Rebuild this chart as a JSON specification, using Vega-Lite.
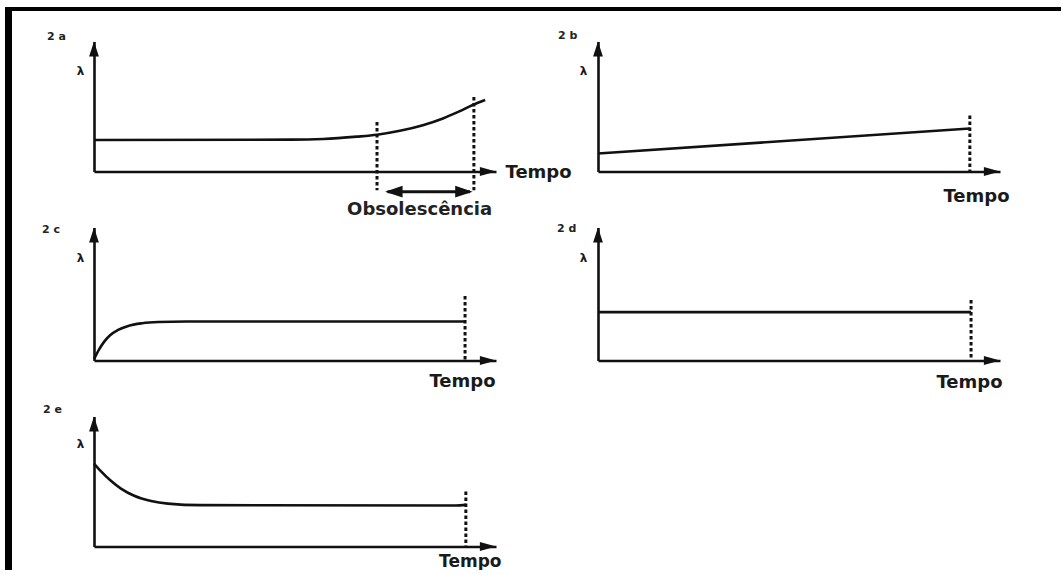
{
  "$schema": "https://vega.github.io/schema/vega-lite/v6.json",
  "background": "white",
  "padding": {"left": 2, "top": 2.5, "right": -4, "bottom": -9},
  "datasets": {
    "curves": [
      {"panel": "2a", "t": 0, "lam": 2.42}, {"panel": "2a", "t": 4.9, "lam": 2.45}, {"panel": "2a", "t": 5.7, "lam": 2.5},
      {"panel": "2a", "t": 6.54, "lam": 2.68}, {"panel": "2a", "t": 7.04, "lam": 2.83}, {"panel": "2a", "t": 7.61, "lam": 3.13},
      {"panel": "2a", "t": 8.18, "lam": 3.56}, {"panel": "2a", "t": 8.68, "lam": 4.08}, {"panel": "2a", "t": 9.1, "lam": 4.64},
      {"panel": "2a", "t": 9.42, "lam": 5.12}, {"panel": "2a", "t": 9.73, "lam": 5.5},
      {"panel": "2b", "t": 0, "lam": 1.38}, {"panel": "2b", "t": 9.25, "lam": 3.31},
      {"panel": "2c", "t": 0, "lam": 0.1}, {"panel": "2c", "t": 0.12, "lam": 0.8}, {"panel": "2c", "t": 0.25, "lam": 1.4},
      {"panel": "2c", "t": 0.4, "lam": 1.9}, {"panel": "2c", "t": 0.6, "lam": 2.3}, {"panel": "2c", "t": 0.85, "lam": 2.6},
      {"panel": "2c", "t": 1.2, "lam": 2.8}, {"panel": "2c", "t": 1.6, "lam": 2.89}, {"panel": "2c", "t": 2.3, "lam": 2.93},
      {"panel": "2c", "t": 9.23, "lam": 2.93},
      {"panel": "2d", "t": 0, "lam": 3.64}, {"panel": "2d", "t": 9.28, "lam": 3.64},
      {"panel": "2e", "t": 0, "lam": 6.38}, {"panel": "2e", "t": 0.17, "lam": 5.8}, {"panel": "2e", "t": 0.42, "lam": 5.05},
      {"panel": "2e", "t": 0.67, "lam": 4.45}, {"panel": "2e", "t": 1.0, "lam": 3.9}, {"panel": "2e", "t": 1.42, "lam": 3.5},
      {"panel": "2e", "t": 1.84, "lam": 3.3}, {"panel": "2e", "t": 2.66, "lam": 3.18}, {"panel": "2e", "t": 9.0, "lam": 3.15},
      {"panel": "2e", "t": 9.25, "lam": 3.2}
    ],
    "cutoffs": [
      {"panel": "2a", "t": 7.04, "top": 3.8, "bottom": -1.45},
      {"panel": "2a", "t": 9.45, "top": 5.73, "bottom": -1.45},
      {"panel": "2b", "t": 9.25, "top": 4.3, "bottom": 0},
      {"panel": "2c", "t": 9.23, "top": 4.85, "bottom": 0},
      {"panel": "2d", "t": 9.28, "top": 4.55, "bottom": 0},
      {"panel": "2e", "t": 9.25, "top": 4.23, "bottom": 0}
    ],
    "heads": [
      {"panel": "2a", "t": 10, "lam": 0, "dir": "right"}, {"panel": "2a", "t": 0, "lam": 10, "dir": "up"},
      {"panel": "2a", "t": 7.24, "lam": -1.55, "dir": "left2"}, {"panel": "2a", "t": 9.42, "lam": -1.55, "dir": "right2"},
      {"panel": "2b", "t": 10, "lam": 0, "dir": "right"}, {"panel": "2b", "t": 0, "lam": 10, "dir": "up"},
      {"panel": "2c", "t": 10, "lam": 0, "dir": "right"}, {"panel": "2c", "t": 0, "lam": 10, "dir": "up"},
      {"panel": "2d", "t": 10, "lam": 0, "dir": "right"}, {"panel": "2d", "t": 0, "lam": 10, "dir": "up"},
      {"panel": "2e", "t": 10, "lam": 0, "dir": "right"}, {"panel": "2e", "t": 0, "lam": 10, "dir": "up"}
    ],
    "spans": [
      {"panel": "2a", "from": 7.3, "to": 9.35, "lam": -1.55}
    ],
    "notes": [
      {"panel": "2a", "t": 8.1, "lam": -2.96, "label": "Obsolescência"}
    ]
  },
  "columns": 2,
  "spacing": {"row": 56, "column": 102},
  "bounds": "flush",
  "concat": [
    {
      "width": 402, "height": 130,
      "title": {"text": "2 a", "anchor": "start", "frame": "group", "dx": -47, "dy": 44.5, "offset": 0, "baseline": "middle"},
      "layer": [
        {
          "data": {"name": "curves"}, "transform": [{"filter": "datum.panel === '2a'"}],
          "mark": {"type": "line", "interpolate": "monotone", "strokeWidth": 2.6, "color": "#111"},
          "encoding": {
            "x": {"field": "t", "type": "quantitative", "scale": {"domain": [0, 10], "nice": false, "zero": false},
                  "axis": {"title": "Tempo", "titleX": 411, "titleY": 1, "titleAlign": "left", "titleBaseline": "middle", "titleAngle": 0, "titleFontSize": 18}},
            "y": {"field": "lam", "type": "quantitative", "scale": {"domain": [0, 10], "nice": false, "zero": false},
                  "axis": {"title": "λ", "titleX": -14, "titleY": 29, "titleAlign": "center", "titleBaseline": "middle", "titleAngle": 0, "titleFontSize": 12}}
          }
        },
        {
          "data": {"name": "cutoffs"}, "transform": [{"filter": "datum.panel === '2a'"}],
          "mark": {"type": "rule", "strokeWidth": 3, "strokeDash": [3.5, 2.5], "color": "#111"},
          "encoding": {"x": {"field": "t", "type": "quantitative"}, "y": {"field": "top", "type": "quantitative"}, "y2": {"field": "bottom"}}
        },
        {
          "data": {"name": "spans"}, "transform": [{"filter": "datum.panel === '2a'"}],
          "mark": {"type": "rule", "strokeWidth": 3, "color": "#111"},
          "encoding": {"x": {"field": "from", "type": "quantitative"}, "x2": {"field": "to"}, "y": {"field": "lam", "type": "quantitative"}}
        },
        {
          "data": {"name": "heads"}, "transform": [{"filter": "datum.panel === '2a'"}],
          "mark": {"type": "point", "filled": true, "opacity": 1, "size": 196, "color": "#111"},
          "encoding": {
            "x": {"field": "t", "type": "quantitative"},
            "y": {"field": "lam", "type": "quantitative"},
            "shape": {"field": "dir", "type": "nominal", "legend": null,
                      "scale": {"domain": ["up", "right", "left2", "right2"],
                                "range": ["M0,0L-0.7,2.15L0.7,2.15Z", "M0,0L-2.3,-0.65L-2.3,0.65Z", "M0,0L2.5,-0.85L2.5,0.85Z", "M0,0L-2.5,-0.85L-2.5,0.85Z"]}}
          }
        },
        {
          "data": {"name": "notes"}, "transform": [{"filter": "datum.panel === '2a'"}],
          "mark": {"type": "text", "font": "DejaVu Sans", "fontWeight": "bold", "fontSize": 18, "color": "#222", "align": "center", "baseline": "middle"},
          "encoding": {"x": {"field": "t", "type": "quantitative"}, "y": {"field": "lam", "type": "quantitative"}, "text": {"field": "label"}}
        },
        {
          "data": {"values": [{}]},
          "mark": {"type": "rule", "strokeWidth": 7, "color": "#000"},
          "encoding": {"x": {"datum": -2.127, "type": "quantitative"}, "y": {"datum": 12.654, "type": "quantitative"}, "y2": {"datum": -31.0}}
        },
        {
          "data": {"values": [{}]},
          "mark": {"type": "rule", "strokeWidth": 4, "color": "#000"},
          "encoding": {"x": {"datum": -2.214, "type": "quantitative"}, "x2": {"datum": 24.08}, "y": {"datum": 12.5, "type": "quantitative"}}
        }
      ]
    },
    {
      "width": 402, "height": 130,
      "title": {"text": "2 b", "anchor": "start", "frame": "group", "dx": -40, "dy": 5, "offset": 0, "baseline": "middle"},
      "layer": [
        {
          "data": {"name": "curves"}, "transform": [{"filter": "datum.panel === '2b'"}],
          "mark": {"type": "line", "strokeWidth": 2.6, "color": "#111"},
          "encoding": {
            "x": {"field": "t", "type": "quantitative", "scale": {"domain": [0, 10], "nice": false, "zero": false},
                  "axis": {"title": "Tempo", "titleX": 411, "titleY": 25, "titleAlign": "right", "titleBaseline": "middle", "titleAngle": 0, "titleFontSize": 18}},
            "y": {"field": "lam", "type": "quantitative", "scale": {"domain": [0, 10], "nice": false, "zero": false},
                  "axis": {"title": "λ", "titleX": -15, "titleY": 29, "titleAlign": "center", "titleBaseline": "middle", "titleAngle": 0, "titleFontSize": 12}}
          }
        },
        {
          "data": {"name": "cutoffs"}, "transform": [{"filter": "datum.panel === '2b'"}],
          "mark": {"type": "rule", "strokeWidth": 3, "strokeDash": [3.5, 2.5], "color": "#111"},
          "encoding": {"x": {"field": "t", "type": "quantitative"}, "y": {"field": "top", "type": "quantitative"}, "y2": {"field": "bottom"}}
        },
        {
          "data": {"name": "heads"}, "transform": [{"filter": "datum.panel === '2b'"}],
          "mark": {"type": "point", "filled": true, "opacity": 1, "size": 196, "color": "#111"},
          "encoding": {
            "x": {"field": "t", "type": "quantitative"},
            "y": {"field": "lam", "type": "quantitative"},
            "shape": {"field": "dir", "type": "nominal", "legend": null,
                      "scale": {"domain": ["up", "right", "left2", "right2"],
                                "range": ["M0,0L-0.7,2.15L0.7,2.15Z", "M0,0L-2.3,-0.65L-2.3,0.65Z", "M0,0L2.5,-0.85L2.5,0.85Z", "M0,0L-2.5,-0.85L-2.5,0.85Z"]}}
          }
        }
      ]
    },
    {
      "width": 402, "height": 133,
      "title": {"text": "2 c", "anchor": "start", "frame": "group", "dx": -52, "dy": 13, "offset": 0, "baseline": "middle"},
      "layer": [
        {
          "data": {"name": "curves"}, "transform": [{"filter": "datum.panel === '2c'"}],
          "mark": {"type": "line", "interpolate": "monotone", "strokeWidth": 2.6, "color": "#111"},
          "encoding": {
            "x": {"field": "t", "type": "quantitative", "scale": {"domain": [0, 10], "nice": false, "zero": false},
                  "axis": {"title": "Tempo", "titleX": 401, "titleY": 21, "titleAlign": "right", "titleBaseline": "middle", "titleAngle": 0, "titleFontSize": 18}},
            "y": {"field": "lam", "type": "quantitative", "scale": {"domain": [0, 10], "nice": false, "zero": false},
                  "axis": {"title": "λ", "titleX": -14, "titleY": 30, "titleAlign": "center", "titleBaseline": "middle", "titleAngle": 0, "titleFontSize": 12}}
          }
        },
        {
          "data": {"name": "cutoffs"}, "transform": [{"filter": "datum.panel === '2c'"}],
          "mark": {"type": "rule", "strokeWidth": 3, "strokeDash": [3.5, 2.5], "color": "#111"},
          "encoding": {"x": {"field": "t", "type": "quantitative"}, "y": {"field": "top", "type": "quantitative"}, "y2": {"field": "bottom"}}
        },
        {
          "data": {"name": "heads"}, "transform": [{"filter": "datum.panel === '2c'"}],
          "mark": {"type": "point", "filled": true, "opacity": 1, "size": 196, "color": "#111"},
          "encoding": {
            "x": {"field": "t", "type": "quantitative"},
            "y": {"field": "lam", "type": "quantitative"},
            "shape": {"field": "dir", "type": "nominal", "legend": null,
                      "scale": {"domain": ["up", "right", "left2", "right2"],
                                "range": ["M0,0L-0.7,2.15L0.7,2.15Z", "M0,0L-2.3,-0.65L-2.3,0.65Z", "M0,0L2.5,-0.85L2.5,0.85Z", "M0,0L-2.5,-0.85L-2.5,0.85Z"]}}
          }
        }
      ]
    },
    {
      "width": 402, "height": 133,
      "title": {"text": "2 d", "anchor": "start", "frame": "group", "dx": -41, "dy": 12, "offset": 0, "baseline": "middle"},
      "layer": [
        {
          "data": {"name": "curves"}, "transform": [{"filter": "datum.panel === '2d'"}],
          "mark": {"type": "line", "strokeWidth": 2.6, "color": "#111"},
          "encoding": {
            "x": {"field": "t", "type": "quantitative", "scale": {"domain": [0, 10], "nice": false, "zero": false},
                  "axis": {"title": "Tempo", "titleX": 404, "titleY": 22, "titleAlign": "right", "titleBaseline": "middle", "titleAngle": 0, "titleFontSize": 18}},
            "y": {"field": "lam", "type": "quantitative", "scale": {"domain": [0, 10], "nice": false, "zero": false},
                  "axis": {"title": "λ", "titleX": -15, "titleY": 30, "titleAlign": "center", "titleBaseline": "middle", "titleAngle": 0, "titleFontSize": 12}}
          }
        },
        {
          "data": {"name": "cutoffs"}, "transform": [{"filter": "datum.panel === '2d'"}],
          "mark": {"type": "rule", "strokeWidth": 3, "strokeDash": [3.5, 2.5], "color": "#111"},
          "encoding": {"x": {"field": "t", "type": "quantitative"}, "y": {"field": "top", "type": "quantitative"}, "y2": {"field": "bottom"}}
        },
        {
          "data": {"name": "heads"}, "transform": [{"filter": "datum.panel === '2d'"}],
          "mark": {"type": "point", "filled": true, "opacity": 1, "size": 196, "color": "#111"},
          "encoding": {
            "x": {"field": "t", "type": "quantitative"},
            "y": {"field": "lam", "type": "quantitative"},
            "shape": {"field": "dir", "type": "nominal", "legend": null,
                      "scale": {"domain": ["up", "right", "left2", "right2"],
                                "range": ["M0,0L-0.7,2.15L0.7,2.15Z", "M0,0L-2.3,-0.65L-2.3,0.65Z", "M0,0L2.5,-0.85L2.5,0.85Z", "M0,0L-2.5,-0.85L-2.5,0.85Z"]}}
          }
        }
      ]
    },
    {
      "width": 402, "height": 130,
      "title": {"text": "2 e", "anchor": "start", "frame": "group", "dx": -51, "dy": 4, "offset": 0, "baseline": "middle"},
      "layer": [
        {
          "data": {"name": "curves"}, "transform": [{"filter": "datum.panel === '2e'"}],
          "mark": {"type": "line", "interpolate": "monotone", "strokeWidth": 2.6, "color": "#111"},
          "encoding": {
            "x": {"field": "t", "type": "quantitative", "scale": {"domain": [0, 10], "nice": false, "zero": false},
                  "axis": {"title": "Tempo", "titleX": 407, "titleY": 15, "titleAlign": "right", "titleBaseline": "middle", "titleAngle": 0, "titleFontSize": 17}},
            "y": {"field": "lam", "type": "quantitative", "scale": {"domain": [0, 10], "nice": false, "zero": false},
                  "axis": {"title": "λ", "titleX": -14, "titleY": 27, "titleAlign": "center", "titleBaseline": "middle", "titleAngle": 0, "titleFontSize": 12}}
          }
        },
        {
          "data": {"name": "cutoffs"}, "transform": [{"filter": "datum.panel === '2e'"}],
          "mark": {"type": "rule", "strokeWidth": 3, "strokeDash": [3.5, 2.5], "color": "#111"},
          "encoding": {"x": {"field": "t", "type": "quantitative"}, "y": {"field": "top", "type": "quantitative"}, "y2": {"field": "bottom"}}
        },
        {
          "data": {"name": "heads"}, "transform": [{"filter": "datum.panel === '2e'"}],
          "mark": {"type": "point", "filled": true, "opacity": 1, "size": 196, "color": "#111"},
          "encoding": {
            "x": {"field": "t", "type": "quantitative"},
            "y": {"field": "lam", "type": "quantitative"},
            "shape": {"field": "dir", "type": "nominal", "legend": null,
                      "scale": {"domain": ["up", "right", "left2", "right2"],
                                "range": ["M0,0L-0.7,2.15L0.7,2.15Z", "M0,0L-2.3,-0.65L-2.3,0.65Z", "M0,0L2.5,-0.85L2.5,0.85Z", "M0,0L-2.5,-0.85L-2.5,0.85Z"]}}
          }
        }
      ]
    }
  ],
  "config": {
    "font": "DejaVu Sans",
    "view": {"stroke": null},
    "axis": {"domain": true, "domainColor": "#111", "domainWidth": 2.6, "ticks": false, "labels": false, "grid": false,
             "titleFont": "DejaVu Sans", "titleFontWeight": "bold", "titleColor": "#1a1a1a", "titlePadding": 0},
    "title": {"font": "DejaVu Sans", "fontSize": 11, "fontWeight": "bold", "color": "#222"}
  }
}
